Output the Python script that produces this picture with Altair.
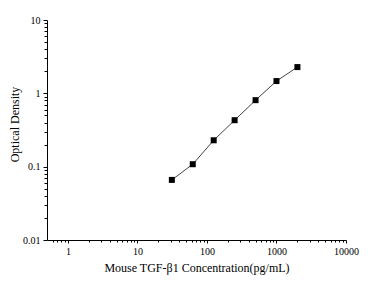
import altair as alt
import pandas as pd

# Standard curve data
conc = [31.25, 62.5, 125, 250, 500, 1000, 2000]
od = [0.066, 0.108, 0.229, 0.430, 0.807, 1.47, 2.28]

# Axis ticks
x_major = [1, 10, 100, 1000, 10000]
x_minor = [0.6, 0.7, 0.8, 0.9,
           2, 3, 4, 5, 6, 7, 8, 9,
           20, 30, 40, 50, 60, 70, 80, 90,
           200, 300, 400, 500, 600, 700, 800, 900,
           2000, 3000, 4000, 5000, 6000, 7000, 8000, 9000]
y_major = [0.01, 0.1, 1, 10]
y_minor = [0.02, 0.03, 0.04, 0.05, 0.06, 0.07, 0.08, 0.09,
           0.2, 0.3, 0.4, 0.5, 0.6, 0.7, 0.8, 0.9,
           2, 3, 4, 5, 6, 7, 8, 9]

df = pd.DataFrame({"conc": conc, "od": od})

FONT = "Liberation Serif"
is_major = "abs(log(datum.value)/LN10 - round(log(datum.value)/LN10)) < 0.001"

x_axis = alt.Axis(
    values=sorted(x_major + x_minor),
    labelExpr=f"({is_major}) ? format(datum.value, '~g') : ''",
    tickSize={"condition": {"test": is_major, "value": 3}, "value": 2},
    labelOverlap=False, labelFlush=False,
    labelFont=FONT, labelFontSize=10, labelColor="black", labelPadding=3,
    title="Mouse TGF-β1 Concentration(pg/mL)",
    titleFont=FONT, titleFontSize=12, titleFontWeight="normal", titleColor="black",
    titleBaseline="alphabetic", titleY=31,
    domainColor="black", tickColor="black", grid=False,
)
y_axis = alt.Axis(
    values=sorted(y_major + y_minor),
    labelExpr=f"({is_major}) ? format(datum.value, '~g') : ''",
    tickSize={"condition": {"test": is_major, "value": 4}, "value": 3},
    labelOverlap=False, labelFlush=False,
    labelFont=FONT, labelFontSize=10, labelColor="black", labelPadding=3,
    title="Optical Density",
    titleFont=FONT, titleFontSize=12, titleFontWeight="normal", titleColor="black",
    titleAngle=-90, titleAlign="center", titleBaseline="middle",
    titleX=-33, titleY=104,
    domainColor="black", tickColor="black", grid=False,
)

xs = alt.Scale(type="log", domain=[0.5, 10000])
ys = alt.Scale(type="log", domain=[0.01, 10])

line = alt.Chart(df).mark_line(color="#444444", strokeWidth=1).encode(
    x=alt.X("conc:Q", scale=xs, axis=x_axis),
    y=alt.Y("od:Q", scale=ys, axis=y_axis),
)
pts = alt.Chart(df).mark_point(shape="square", filled=True, color="black",
                               size=36, opacity=1).encode(
    x=alt.X("conc:Q", scale=xs),
    y=alt.Y("od:Q", scale=ys),
)

chart = (line + pts).properties(
    width=299, height=220,
    autosize=alt.AutoSizeParams(type="none"),
    padding={"left": 47, "top": 20, "right": 44, "bottom": 45},
    background="white",
).configure_view(stroke=None)

chart.save("out.html", embed_options={"renderer": "svg", "actions": False})
